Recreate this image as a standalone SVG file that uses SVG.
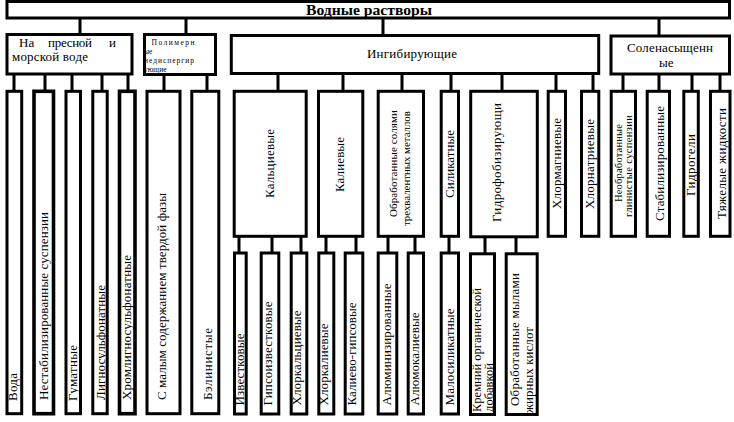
<svg xmlns="http://www.w3.org/2000/svg" width="734" height="422" viewBox="0 0 734 422">
<style>
.box{fill:#fff;stroke:#000;stroke-width:3}
.ln{stroke:#000;stroke-width:3;fill:none}
.t{font-family:"Liberation Serif","Times New Roman",serif;font-size:13px;fill:#000}
.s{font-size:11px}
.xs{font-size:10.5px}
.p{font-size:7.5px}
.b{font-weight:bold;font-size:15px}
</style>
<rect width="734" height="422" fill="#fff"/>
<g id="connectors">
<path class="ln" d="M80,18V35M186,18V35M383,18V36M659,18V36"/>
<path class="ln" d="M14,74V91M45,74V91M72,74V91M102,74V91M128,74V91M164,74V91M207,74V91"/>
<path class="ln" d="M278,73V91M343,73V91M402,73V91M451,73V91M502,73V91M556,73V91M593,73V91"/>
<path class="ln" d="M623,74V91M659,74V91M692,74V91M720,74V91"/>
<path class="ln" d="M239,236V253M272,236V253M301,236V253M326,236V253M356,236V253M388,236V253M415,236V253M449,236V253M485,236V253M516,236V253"/>
</g>
<g id="root">
<rect class="box" x="7" y="1.5" width="722.5" height="16.5"/>
<text class="t b" x="369" y="15" text-anchor="middle" textLength="126" lengthAdjust="spacingAndGlyphs">Водные растворы</text>
</g>
<g id="fresh">
<rect class="box" x="7" y="34.5" width="125" height="39.5"/>
<text class="t" x="19" y="46.5">На</text>
<text class="t" x="48" y="46.5" textLength="44" lengthAdjust="spacing">пресной</text>
<text class="t" x="109" y="46.5">и</text>
<text class="t" x="12" y="61" textLength="76" lengthAdjust="spacing">морской воде</text>
</g>
<g id="polymer">
<rect class="box" x="144.5" y="34.5" width="71" height="40"/>
<text class="t p" x="151.5" y="45" textLength="43" lengthAdjust="spacing">Полимерн</text>
<text class="t p" x="144" y="53.5">ые</text>
<text class="t p" x="144" y="62.5" textLength="50" lengthAdjust="spacing">недиспергир</text>
<text class="t p" x="144" y="71.5">ующие</text>
</g>
<g id="inhib">
<rect class="box" x="231.3" y="35.5" width="367.4" height="38"/>
<text class="t" x="367" y="58" textLength="90" lengthAdjust="spacing">Ингибирующие</text>
</g>
<g id="salt">
<rect class="box" x="611" y="36" width="118.5" height="38"/>
<text class="t" x="627" y="52" textLength="86" lengthAdjust="spacing">Соленасыщенн</text>
<text class="t" x="659" y="66.5">ые</text>
</g>
<g id="voda"><rect class="box" x="7" y="91.3" width="14.7" height="322.4"/>
<text class="t" transform="translate(17,401) rotate(-90)" textLength="28" lengthAdjust="spacing">Вода</text></g>
<g id="nestab"><rect class="box" x="34" y="91.3" width="19.5" height="322.4" style="stroke-width:3.6"/>
<text class="t" transform="translate(48,400) rotate(-90)" textLength="188" lengthAdjust="spacing">Нестабилизированные суспензии</text></g>
<g id="gumat"><rect class="box" x="66" y="91.3" width="14.5" height="322.4"/>
<text class="t" transform="translate(77,401) rotate(-90)" textLength="56" lengthAdjust="spacing">Гуматные</text></g>
<g id="lignosulf"><rect class="box" x="92.8" y="91.3" width="14.4" height="322.4"/>
<text class="t" transform="translate(104.5,400) rotate(-90)" textLength="115" lengthAdjust="spacing">Лигносульфонатные</text></g>
<g id="chromlig"><rect class="box" x="119.5" y="91.3" width="15.5" height="322.4" style="stroke-width:3.6"/>
<text class="t" transform="translate(130.5,400) rotate(-90)" textLength="145" lengthAdjust="spacing">Хромлигносульфонатные</text></g>
<g id="lowsolid"><rect class="box" x="147" y="91.3" width="33" height="322.4"/>
<text class="t" transform="translate(165.5,400) rotate(-90)" textLength="207" lengthAdjust="spacing">С малым содержанием твердой фазы</text></g>
<g id="belin"><rect class="box" x="191.8" y="91.3" width="27" height="322.4"/>
<text class="t" transform="translate(211.5,400) rotate(-90)" textLength="72" lengthAdjust="spacing">Бэлинистые</text></g>
<g id="calc"><rect class="box" x="234.2" y="91.3" width="72" height="145"/>
<text class="t" transform="translate(273.6,198) rotate(-90)" textLength="69" lengthAdjust="spacing">Кальциевые</text></g>
<g id="kal"><rect class="box" x="318.5" y="91.3" width="44.3" height="145"/>
<text class="t" transform="translate(343.6,192) rotate(-90)" textLength="55" lengthAdjust="spacing">Калиевые</text></g>
<g id="trival"><rect class="box" x="378.2" y="91.3" width="45.3" height="145"/>
<text class="t s" transform="translate(397.3,217) rotate(-90)" textLength="107" lengthAdjust="spacing">Обработанные солями</text>
<text class="t s" transform="translate(410,226) rotate(-90)" textLength="115" lengthAdjust="spacing">трехвалентных металлов</text></g>
<g id="silic"><rect class="box" x="441.2" y="91.3" width="17.3" height="145"/>
<text class="t" transform="translate(453.6,198) rotate(-90)" textLength="68" lengthAdjust="spacing">Силикатные</text></g>
<g id="hydroph"><rect class="box" x="470.7" y="91.3" width="66.6" height="145.5"/>
<text class="t" transform="translate(500.6,222) rotate(-90)" textLength="119" lengthAdjust="spacing">Гидрофобизирующи</text></g>
<g id="chlormg"><rect class="box" x="548.2" y="91.3" width="17.3" height="145"/>
<text class="t" transform="translate(560.6,209) rotate(-90)" textLength="91" lengthAdjust="spacing">Хлормагниевые</text></g>
<g id="chlorna"><rect class="box" x="581.5" y="91.3" width="17.3" height="145"/>
<text class="t" transform="translate(593.6,209) rotate(-90)" textLength="90" lengthAdjust="spacing">Хлорнатриевые</text></g>
<g id="untreated"><rect class="box" x="611.2" y="91.3" width="24.3" height="145"/>
<text class="t xs" transform="translate(622,202) rotate(-90)" textLength="78" lengthAdjust="spacing">Необработанные</text>
<text class="t xs" transform="translate(632,217) rotate(-90)" textLength="102" lengthAdjust="spacing">глинистые суспензии</text></g>
<g id="stab"><rect class="box" x="647.2" y="91.3" width="22.3" height="145"/>
<text class="t" transform="translate(663.6,221) rotate(-90)" textLength="115" lengthAdjust="spacing">Стабилизированные</text></g>
<g id="hydrogel"><rect class="box" x="683.8" y="91.3" width="14.5" height="145"/>
<text class="t" transform="translate(695,196) rotate(-90)" textLength="62" lengthAdjust="spacing">Гидрогели</text></g>
<g id="heavy"><rect class="box" x="710.5" y="91.3" width="19.5" height="145"/>
<text class="t" transform="translate(726,219) rotate(-90)" textLength="111" lengthAdjust="spacing">Тяжелые жидкости</text></g>
<g id="izv"><rect class="box" x="234.5" y="253" width="11.7" height="161"/>
<text class="t" transform="translate(243.6,405.5) rotate(-90)" textLength="72" lengthAdjust="spacing">Известковые</text></g>
<g id="gipsizv"><rect class="box" x="261.2" y="253" width="17.6" height="161"/>
<text class="t" transform="translate(271.6,405.5) rotate(-90)" textLength="104" lengthAdjust="spacing">Гипсоизвестковые</text></g>
<g id="chlorca"><rect class="box" x="291.2" y="253" width="15.6" height="161"/>
<text class="t" transform="translate(300.6,405.5) rotate(-90)" textLength="95" lengthAdjust="spacing">Хлоркальциевые</text></g>
<g id="chlork"><rect class="box" x="318.8" y="253" width="15" height="161"/>
<text class="t" transform="translate(327.6,405.5) rotate(-90)" textLength="82" lengthAdjust="spacing">Хлоркалиевые</text></g>
<g id="kgips"><rect class="box" x="345.2" y="253" width="17.6" height="161"/>
<text class="t" transform="translate(355.6,405.5) rotate(-90)" textLength="103" lengthAdjust="spacing">Калиево-гипсовые</text></g>
<g id="alum"><rect class="box" x="378.2" y="253" width="18.6" height="161"/>
<text class="t" transform="translate(390.6,405.5) rotate(-90)" textLength="122" lengthAdjust="spacing">Алюминизированные</text></g>
<g id="alumk"><rect class="box" x="408.2" y="253" width="15.3" height="161"/>
<text class="t" transform="translate(418.6,405.5) rotate(-90)" textLength="93" lengthAdjust="spacing">Алюмокалиевые</text></g>
<g id="malosil"><rect class="box" x="441.2" y="253" width="17.3" height="161"/>
<text class="t" transform="translate(453.6,405.5) rotate(-90)" textLength="97" lengthAdjust="spacing">Малосиликатные</text></g>
<g id="silicorg"><rect class="box" x="470.5" y="253.8" width="24" height="160.7"/>
<text class="t" style="font-size:12.5px" transform="translate(480.5,412) rotate(-90)" textLength="124" lengthAdjust="spacing">Кремний органической</text>
<text class="t" style="font-size:12.5px" transform="translate(492.5,412) rotate(-90)" textLength="49" lengthAdjust="spacing">добавкой</text></g>
<g id="soap"><rect class="box" x="506.2" y="253.8" width="31" height="160.7"/>
<text class="t" transform="translate(518.6,406) rotate(-90)" textLength="133" lengthAdjust="spacing">Обработанные мылами</text>
<text class="t" transform="translate(532.5,413) rotate(-90)" textLength="86" lengthAdjust="spacing">жирных кислот</text></g>
</svg>
